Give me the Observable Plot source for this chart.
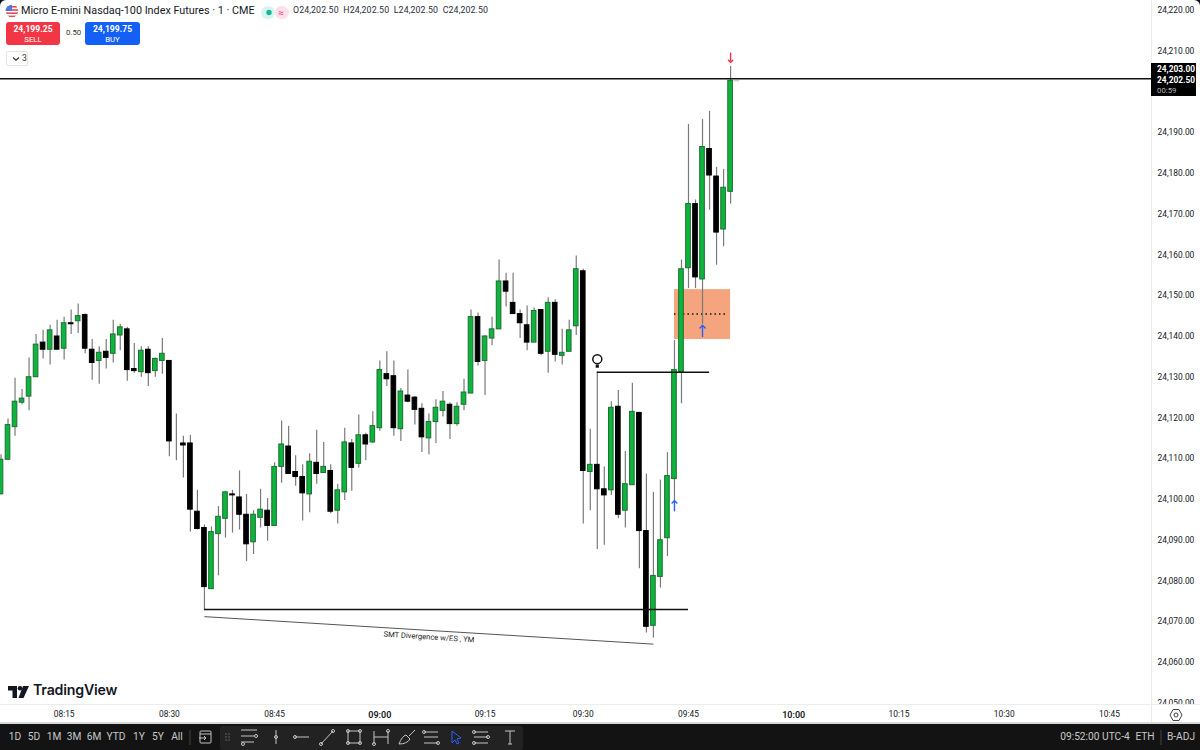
<!DOCTYPE html>
<html>
<head>
<meta charset="utf-8">
<script src="https://cdn.jsdelivr.net/npm/d3@7"></script>
<script src="https://cdn.jsdelivr.net/npm/@observablehq/plot@0.6"></script>
<style>
html,body{margin:0;padding:0;background:#131313;width:1200px;height:750px;overflow:hidden;font-family:Roboto,sans-serif}
#chart{position:relative;width:1200px;height:724px;background:#fff;border-radius:6px 6px 0 0;overflow:hidden}
#chart svg.tv{display:block}
.ov{position:absolute;white-space:nowrap;color:#131722}
#foot{position:relative;width:1200px;height:26px;background:#131313;color:#c9c9c9;font-size:10.2px}
#foot span{position:absolute;top:7px;white-space:nowrap;transform:translateX(-50%)}
#foot svg{position:absolute;left:0;top:0}
</style>
</head>
<body>
<div id="chart"></div>
<div id="foot"></div>
<script>
// Candle values, one entry per one-minute bar (oldest first)
const opens=[24101,24109.5,24117.5,24123.5,24125,24129.75,24138.25,24136.5,24139.75,24136.75,24143,24143.5,24145,24136.5,24133.75,24136,24135.5,24140,24141.5,24131.75,24131,24136.5,24131.25,24133.75,24133.75,24113.5,24113.5,24113.5,24096.75,24092.75,24077.75,24091.25,24095,24101,24100.25,24096,24089.25,24095.25,24097,24093.25,24107.75,24112.75,24106.5,24105.25,24101,24108.75,24106.25,24106.75,24097,24101.5,24113.5,24108.5,24115.5,24113.75,24117.25,24130.5,24130,24117,24125.25,24124.75,24122,24114.75,24118.75,24121.5,24123,24118.25,24123,24125.75,24144.5,24133.75,24139.25,24141.5,24153.25,24148,24145.25,24142.5,24138.25,24146.25,24136,24148,24135,24136,24142.25,24155.75,24106.5,24108.25,24102.25,24102,24122.5,24097,24103.25,24121,24092,24068.75,24080.75,24090.25,24104.75,24131,24156.5,24172.25,24153.75,24185.75,24179,24166,24175.25];
const highs=[24110.75,24119.5,24129.5,24126.75,24134.5,24140.25,24141.25,24142.5,24143.75,24144.5,24146.25,24147.75,24145.25,24139,24137.25,24139,24143.75,24142.75,24142,24138,24137.25,24137.25,24134.5,24139.25,24133.75,24120.75,24115.25,24115.5,24102,24093.5,24093,24098,24101.75,24102,24106.75,24101,24097,24102.25,24100,24108.75,24119,24117.75,24110.5,24108.25,24111,24116.75,24113.75,24108.25,24103.5,24117.25,24114.5,24120.5,24116,24121.25,24133.75,24136,24133.75,24127,24131.5,24125,24123.25,24120.75,24124.25,24126.25,24123.5,24123.5,24129.25,24146.25,24145.5,24140,24144.5,24158.5,24155.25,24155.25,24146.25,24147.25,24146.75,24146.25,24149.25,24148.75,24141.5,24143.75,24159.5,24156.25,24117,24131,24107.75,24123.75,24126.5,24111.5,24128.25,24121,24106,24101.5,24104.5,24111.25,24138.75,24158.5,24191.75,24173.25,24193,24195,24181.25,24180.75,24206];
const lows=[24101,24109.5,24115.25,24123,24121.5,24129.75,24134.25,24132.75,24136.5,24134,24140.25,24140.5,24135.5,24129,24128,24131.75,24133.25,24136.25,24128.75,24130.75,24129.75,24127.5,24129.75,24130.5,24110.25,24109.25,24105,24091.75,24092.25,24072.75,24077.75,24081,24090.25,24091.5,24092.25,24084.5,24086.25,24092.75,24089.5,24093.25,24103.75,24106,24103,24094.5,24096.5,24103.5,24106.25,24096.25,24093.75,24099.5,24101.75,24107.5,24109.25,24113.5,24116.5,24127.5,24115.25,24114,24123.5,24118,24111.25,24110.75,24113.5,24120,24114.5,24117.75,24121.5,24125.75,24132.5,24125.25,24137.5,24141.5,24147,24145.25,24139.25,24136.25,24138.25,24135,24130.75,24133.5,24132.75,24136,24140,24093.75,24097,24087.5,24088.5,24100.75,24095,24092.75,24103.25,24082.75,24067,24065.75,24078,24085.75,24099.5,24123.25,24151.5,24151.5,24142.75,24170.75,24157.25,24161.75,24172.25];
const closes=[24109.5,24118,24123.75,24124.5,24129.75,24137.75,24136.5,24141.25,24136.5,24143,24142.75,24144.75,24136.75,24133.25,24135.75,24134.5,24140.25,24142,24131.5,24131.25,24136.25,24130.75,24134.25,24135.5,24114,24113.5,24113,24097.25,24092.5,24078.25,24091.75,24095.5,24101.5,24100.75,24096,24088.75,24096,24097.25,24093.25,24107.75,24113.25,24106,24105.25,24101.25,24109,24106,24107.75,24096.75,24102,24113.75,24107.5,24115.5,24113.25,24117.75,24131.5,24129.25,24117.25,24126.25,24123.75,24121.75,24115,24118.75,24122.25,24123.75,24118.25,24122.5,24126,24144.5,24133.5,24139.75,24141.5,24153.25,24150.75,24145.25,24143,24138.25,24146,24135.5,24148,24135.25,24135.75,24141.25,24156.25,24106.75,24108.25,24102.25,24100.75,24122.25,24096,24103.5,24121.25,24092,24068.5,24081,24089.75,24105.5,24131.5,24156.25,24172.25,24154.25,24186.25,24179.25,24165.25,24176.25,24202.5];

// Axis content
const yTicks=[24050,24060,24070,24080,24090,24100,24110,24120,24130,24140,24150,24160,24170,24180,24190,24210,24220];
const timeTickBars=[9,24,39,69,83,98,128,143,158];
const timeTickLabels=["08:15","08:30","08:45","09:15","09:30","09:45","10:15","10:30","10:45"];
const hourTickBars=[54,113];
const hourTickLabels=["09:00","10:00"];

// Price levels and annotations
const resistance=24203, lastClose=24202.5;
const swingHigh={from:85,to:101,price:24131};
const swingLow={from:29,to:98,price:24072.75};
const smtLine=[{x1:29,y1:24071,x2:93,y2:24064.25}];
const smtLabel=[{bar:61,price:24066,text:"SMT Divergence w/ES , YM"}];
const zone=[{from:96,to:104,top:24151.25,bottom:24139}];
const zoneMid=[{from:96,to:103.7,price:24145.25}];
const upArrows=[{bar:100,p1:24139.75,p2:24142.5},{bar:96,p1:24097,p2:24099.5}];
const downArrows=[{bar:104,p1:24209.25,p2:24207}];
const bulb=[{bar:85,price:24131}];

const bars=opens.map((o,i)=>({i,o,h:highs[i],l:lows[i],c:closes[i]}));
const up=bars.filter(d=>d.c>=d.o), down=bars.filter(d=>d.c<d.o);
const GREEN="#0db53c", GREEN_EDGE="#1c6e33";
const half=0.33;

function body(data,fill,stroke){
  return Plot.rect(data,{x1:d=>d.i-half,x2:d=>d.i+half,y1:d=>Math.min(d.o,d.c),y2:d=>Math.max(d.o,d.c),fill,stroke,strokeWidth:1});
}
function coverBelowFrame(index,scales,values,dims){
  const r=document.createElementNS("http://www.w3.org/2000/svg","rect");
  r.setAttribute("x",0);r.setAttribute("y",dims.height-dims.marginBottom);
  r.setAttribute("width",dims.width);r.setAttribute("height",dims.marginBottom);
  r.setAttribute("fill","#fff");
  return r;
}
const fmt=d3.format(",.2f");
const map=(keys,labels)=>v=>labels[keys.indexOf(v)];

const plot=Plot.plot({
  width:1200,height:724,
  marginLeft:0,marginRight:49,marginTop:0,marginBottom:20,
  x:{type:"linear",domain:[-0.0713,164.0],range:[0,1151]},
  y:{type:"linear",domain:[24049.44,24222.2],range:[704,0]},
  style:{background:"transparent",fontFamily:"Roboto,sans-serif",fontSize:"8.4px",color:"#131722",overflow:"hidden"},
  className:"tv",
  marks:[
    Plot.axisY({ticks:yTicks,anchor:"right",tickSize:0,tickPadding:6,tickFormat:fmt,label:null,fontSize:8.4,dy:1}),
    coverBelowFrame,
    Plot.axisX({ticks:timeTickBars,tickFormat:map(timeTickBars,timeTickLabels),tickSize:0,tickPadding:7,label:null,fontSize:8.4}),
    Plot.axisX({ticks:hourTickBars,tickFormat:map(hourTickBars,hourTickLabels),tickSize:0,tickPadding:7,label:null,fontSize:9,fontWeight:600}),
    Plot.rect(zone,{x1:"from",x2:"to",y1:"bottom",y2:"top",fill:"#f28c5a",fillOpacity:0.78}),
    Plot.ruleY(zoneMid,{x1:"from",x2:"to",y:"price",stroke:"#111",strokeWidth:1.5,strokeDasharray:"1.5,3"}),
    Plot.ruleX(bars,{x:"i",y1:"l",y2:"h",stroke:"#7a7a7a",strokeWidth:1.2}),
    body(up,GREEN,GREEN_EDGE),
    body(down,"#000","#000"),
    Plot.ruleY([resistance],{stroke:"#111",strokeWidth:1.5}),
    Plot.ruleY([lastClose],{x1:104.5,x2:105.3,stroke:"#bbb",strokeWidth:1}),
    Plot.ruleY([swingHigh],{x1:"from",x2:"to",y:"price",stroke:"#111",strokeWidth:1.5}),
    Plot.ruleY([swingLow],{x1:"from",x2:"to",y:"price",stroke:"#111",strokeWidth:1.5}),
    Plot.link(smtLine,{x1:"x1",y1:"y1",x2:"x2",y2:"y2",stroke:"#555",strokeWidth:1}),
    Plot.text(smtLabel,{x:"bar",y:"price",text:"text",rotate:3.6,fontSize:7.6,fill:"#222"}),
    Plot.arrow(upArrows,{x1:"bar",x2:"bar",y1:"p1",y2:"p2",stroke:"#2962ff",strokeWidth:1.4,headLength:7,headAngle:90,bend:0,insetStart:0,insetEnd:0}),
    Plot.arrow(downArrows,{x1:"bar",x2:"bar",y1:"p1",y2:"p2",stroke:"#f23645",strokeWidth:1.4,headLength:7,headAngle:90,bend:0,insetStart:0,insetEnd:0}),
    Plot.dot(bulb,{x:"bar",y:"price",r:4.5,fill:"#fff",stroke:"#111",strokeWidth:1.5,dy:-13}),
    Plot.dot(bulb,{x:"bar",y:"price",r:1.8,symbol:"square",fill:"#111",dy:-6})
  ]
});
const chart=document.getElementById("chart");
chart.appendChild(plot);

function ov(html,css){const d=document.createElement("div");d.className="ov";d.style.cssText=css;d.innerHTML=html;chart.appendChild(d);return d;}

// Axis separators
ov("","left:1151px;top:0;width:1px;height:724px;background:#ececec");
ov("","left:0;top:704px;width:1200px;height:1px;background:#ececec");
ov("","left:0;top:722px;width:1200px;height:2px;background:#d8d8d8");

// Header
ov(`<svg width="14" height="14" viewBox="0 0 14 14"><defs><clipPath id="fc"><circle cx="7" cy="7" r="6.3"/></clipPath></defs><g clip-path="url(#fc)"><rect width="14" height="14" fill="#fff"/><rect y="2" width="14" height="1.6" fill="#e2485a"/><rect y="5.2" width="14" height="1.6" fill="#e2485a"/><rect y="8.4" width="14" height="1.6" fill="#e2485a"/><rect y="11.6" width="14" height="1.6" fill="#e2485a"/><rect width="7" height="7" fill="#4a7bd8"/></g></svg>`,"left:5px;top:3px;height:14px");
ov("Micro E-mini Nasdaq-100 Index Futures · 1 · CME","left:21px;top:3px;font-size:10.8px;line-height:16px;color:#131722");
ov(`<svg width="28" height="13"><rect width="14" height="13" rx="6.5" fill="#d9f3ef"/><rect x="14" width="14" height="13" rx="6.5" fill="#fce0ea"/><circle cx="8" cy="6.5" r="2.7" fill="#15b79b"/><text x="20" y="9.5" font-size="10" fill="#ec407a" text-anchor="middle">≈</text></svg>`,"left:261px;top:4px;height:13px");
ov("O24,202.50&nbsp; H24,202.50&nbsp; L24,202.50&nbsp; C24,202.50","left:293px;top:3px;font-size:8.8px;line-height:15px;letter-spacing:.1px;color:#2a2e39");
ov(`<div style="font-size:8.6px;font-weight:700;line-height:11px;margin-top:2px">24,199.25</div><div style="font-size:7.8px;line-height:9px">SELL</div>`,"left:6px;top:22px;width:54px;height:23px;background:#f23645;border-radius:3px;color:#fff;text-align:center");
ov("0.50","left:66px;top:28px;font-size:7.8px;line-height:10px;color:#333");
ov(`<div style="font-size:8.6px;font-weight:700;line-height:11px;margin-top:2px">24,199.75</div><div style="font-size:7.8px;line-height:9px">BUY</div>`,"left:85px;top:22px;width:55px;height:23px;background:#1460f5;border-radius:3px;color:#fff;text-align:center");
ov(`<svg width="8" height="6" style="position:absolute;left:5px;top:4px"><path d="M1 1.5 L4 4.3 L7 1.5" fill="none" stroke="#333" stroke-width="1.2"/></svg><span style="position:absolute;left:15px;top:1px;font-size:8.6px;line-height:11px;color:#333">3</span>`,"left:6px;top:51px;width:20px;height:13px;border:1px solid #e5e5e5;border-radius:2px");

// Live price tag on the price axis
ov(`<div style="position:absolute;left:6px;top:1px;font-size:8.4px;font-weight:700;line-height:11px;color:#fff">24,203.00</div><div style="position:absolute;left:6px;top:12px;font-size:8.4px;font-weight:700;line-height:11px;color:#fff">24,202.50</div><div style="position:absolute;left:6px;top:23px;font-size:7.8px;line-height:10px;color:#b8b8b8">00:59</div>`,"left:1151px;top:63px;width:45px;height:33px;background:#000");

// Time-axis settings icon
ov(`<svg width="14" height="14" viewBox="0 0 14 14"><path d="M4 1.5H10L13 7L10 12.5H4L1 7Z" fill="none" stroke="#444" stroke-width="1"/><circle cx="7" cy="7" r="2" fill="none" stroke="#444"/></svg>`,"left:1169px;top:707px;height:14px");

// Logo
ov(`<svg width="22" height="13" viewBox="0 0 22 13"><path d="M0 0H9V12H4.5V4.5H0Z" fill="#131722"/><circle cx="12" cy="2.3" r="2.3" fill="#131722"/><path d="M15 0H21L15.5 12H10.5Z" fill="#131722"/></svg>`,"left:8px;top:684px;height:13px");
ov("TradingView","left:33px;top:680px;font-family:Inter,Roboto,sans-serif;font-size:14.2px;font-weight:600;line-height:20px;letter-spacing:-.2px;color:#131722");

// Footer
const foot=document.getElementById("foot");
const ranges=[["1D",15],["5D",34],["1M",54],["3M",74],["6M",94],["YTD",116],["1Y",139],["5Y",158],["All",177]];
const right=[["09:52:00 UTC-4",1095],["ETH",1145],["B-ADJ",1181]];
foot.innerHTML=`<svg width="1200" height="26" fill="none" stroke="#c4c4c4" stroke-width="1">
<line x1="190" y1="6" x2="190" y2="21" stroke="#444"/>
<rect x="200" y="7" width="11" height="12" rx="1"/><line x1="200" y1="10" x2="211" y2="10"/><path d="M199 14H206M204 12L206 14L204 16"/>
<rect x="220" y="2" width="303" height="24" rx="2" fill="#222" stroke="none"/>
<g fill="#777" stroke="none"><circle cx="226" cy="10" r=".7"/><circle cx="229" cy="10" r=".7"/><circle cx="226" cy="13" r=".7"/><circle cx="229" cy="13" r=".7"/><circle cx="226" cy="16" r=".7"/><circle cx="229" cy="16" r=".7"/></g>
<path d="M241 6H257M241 12H254M241 18H254"/><circle cx="256" cy="12" r="1.5"/><circle cx="243" cy="20" r="1.5"/>
<path d="M276 6V20"/><circle cx="276" cy="13" r="1.5"/>
<path d="M295 13H309"/><circle cx="295" cy="13" r="1.5"/>
<path d="M321 20L333 7"/><circle cx="321" cy="20" r="1.5"/><circle cx="333" cy="7" r="1.5"/>
<rect x="348" y="7" width="12" height="12"/><circle cx="348" cy="7" r="1.5"/><circle cx="360" cy="7" r="1.5"/><circle cx="348" cy="19" r="1.5"/><circle cx="360" cy="19" r="1.5"/>
<path d="M374 7V20M388 7V20M374 13H388"/><circle cx="374" cy="20" r="1.5"/><circle cx="388" cy="7" r="1.5"/>
<path d="M399 20Q402 12 406 11L410 15Q407 20 399 20ZM409 12L415 6"/>
<path d="M424 8H438M424 13H438M424 19H438" /><circle cx="424" cy="8" r="1.5"/><circle cx="438" cy="19" r="1.5"/>
<path d="M452 7L461 14L457 15L459 19L457 20L455 16L452 19Z" stroke="#2962ff"/>
<path d="M474 8H488M474 13H488M474 19H488"/><circle cx="474" cy="8" r="1.5"/><circle cx="488" cy="13" r="1.5"/><circle cx="474" cy="19" r="1.5"/>
<path d="M505 7H515M510 7V20M508 20H512"/>
<line x1="1161" y1="6" x2="1161" y2="21" stroke="#444"/>
</svg>`+ranges.concat(right).map(([t,x])=>`<span style="left:${x}px">${t}</span>`).join("");
</script>
</body>
</html>
